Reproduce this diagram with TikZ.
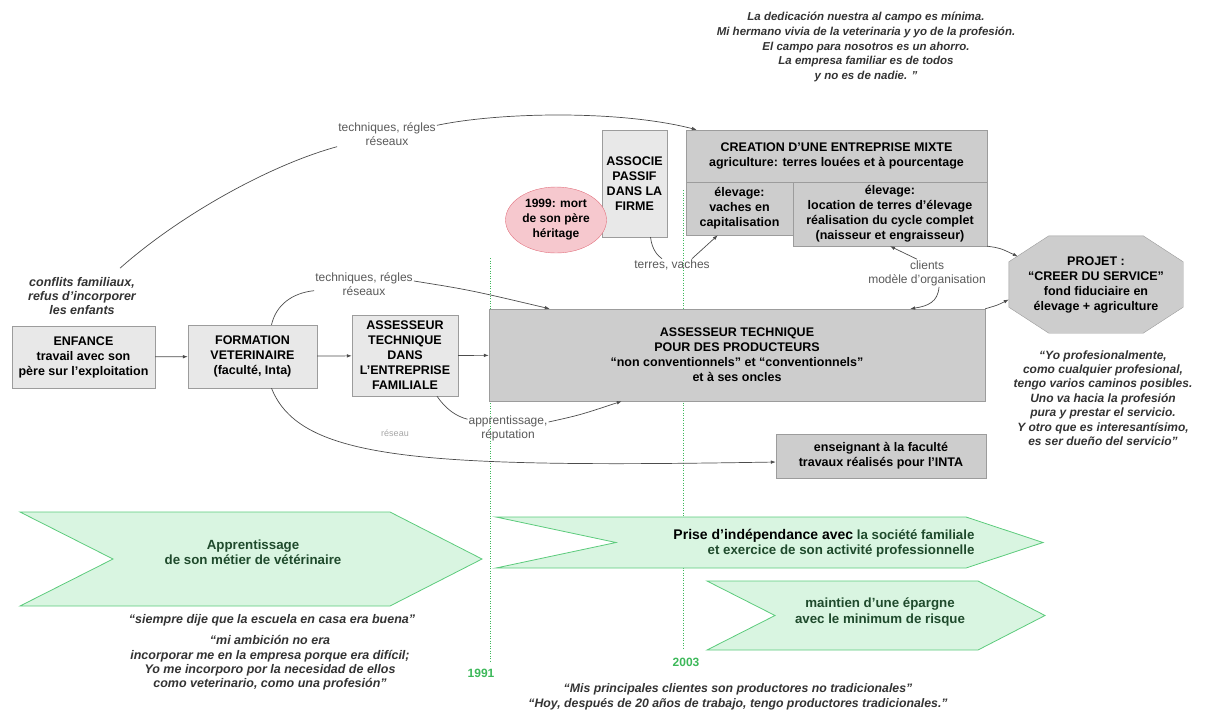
\documentclass[tikz,border=0pt]{standalone}
\usepackage{fontspec}
\setmainfont{Liberation Sans}
\usepackage{tikz}
\usetikzlibrary{arrows.meta,positioning,calc,shapes.geometric,backgrounds}
\definecolor{grisc}{HTML}{E8E8E8}
\definecolor{grisf}{HTML}{CDCDCD}
\definecolor{bord}{HTML}{9C9C9C}
\definecolor{rose}{HTML}{F6C8CE}
\definecolor{rouge}{HTML}{E2727F}
\definecolor{vertc}{HTML}{D9F5E1}
\definecolor{vertb}{HTML}{5CCB7C}
\definecolor{vertf}{HTML}{1F4A2C}
\definecolor{annee}{HTML}{3DB85A}
\tikzset{
  boite/.style={draw=bord,fill=grisc,align=center,inner sep=2pt,font=\bfseries\fontsize{12.5}{15}\selectfont},
  boitef/.style={boite,fill=grisf},
  etiq/.style={align=center,inner sep=1pt,text=black!65,font=\fontsize{12}{14}\selectfont},
  cit/.style={align=center,inner sep=1pt,text=black!80,font=\bfseries\itshape\fontsize{12}{14.4}\selectfont},
  fl/.style={draw=black!70,line width=0.7pt,-{Latex[length=5pt,width=3.6pt]}},
  trait/.style={draw=black!70,line width=0.7pt},
  chev/.style={draw=vertb,fill=vertc,line width=0.8pt},
  txtchev/.style={align=center,text=vertf,font=\bfseries\fontsize{13.3}{15.5}\selectfont},
  ligan/.style={draw=annee,line width=1pt,dash pattern=on 1pt off 1.5pt},
  an/.style={text=annee,font=\bfseries\fontsize{12}{14}\selectfont},
}

\begin{document}
\begin{tikzpicture}[x=1pt,y=-1pt]
  \useasboundingbox (0,0) rectangle (1217,720);
  \coordinate (a91h) at (490,258); \coordinate (a91b) at (490,662);
  \coordinate (a03h) at (683,190); \coordinate (a03b) at (683,650);
  \draw[ligan] (a91h) -- (a91b);
  \draw[ligan] (a03h) -- (a03b);
  \node[an] (n91) at (481,673) {1991};
  \node[an] (n03) at (686,662) {2003};
  \foreach \xa/\xn/\xd/\xp/\ya/\yb in {20/113/390/482/512/606, 496/616/966/1043/517/568, 707/775/978/1045/581/650} {
    \draw[chev] (\xa,\ya) -- (\xd,\ya) -- (\xp,{(\ya+\yb)/2}) -- (\xd,\yb) -- (\xa,\yb) -- (\xn,{(\ya+\yb)/2}) -- cycle;
  }
  \node[txtchev] (appr) at (253,552) {Apprentissage\\de son métier de vétérinaire};
  \node[txtchev,align=right,anchor=east] (indep) at (978,543) {{\color{black}\fontsize{14}{15.5}\selectfont Prise d'indépendance avec} la société familiale\\et exercice de son activité professionnelle};
  \node[txtchev] (epar) at (880,612) {maintien d'une épargne\\avec le minimum de risque};

  \node[boite,minimum width=143pt,minimum height=62pt] (enf) at (83.5,357) {ENFANCE\\travail avec son\\père sur l'exploitation};
  \node[boite,minimum width=129pt,minimum height=63pt] (form) at (252.5,356.5) {FORMATION\\VETERINAIRE\\(faculté, Inta)};
  \node[boite,minimum width=106pt,minimum height=81pt] (asfam) at (405,355.5) {ASSESSEUR\\TECHNIQUE\\DANS\\L'ENTREPRISE\\FAMILIALE};
  \node[boitef,minimum width=496pt,minimum height=92pt] (prod) at (737,355) {ASSESSEUR TECHNIQUE\\POUR DES PRODUCTEURS\\“non conventionnels” et “conventionnels”\\et à ses oncles};
  \node[boite,minimum width=65pt,minimum height=107pt] (assoc) at (634.5,183.5) {ASSOCIE\\PASSIF\\DANS LA\\FIRME};
  \node[ellipse,draw=rouge,fill=rose,minimum width=101pt,minimum height=66pt,inner sep=0pt,align=center,font=\bfseries\fontsize{12}{15}\selectfont] (deces) at (556,220) {1999: mort\\de son père\\héritage};
  \node[boitef,minimum width=301pt,minimum height=52pt] (crea) at (836.5,156) {CREATION D'UNE ENTREPRISE MIXTE\\agriculture: terres louées et à pourcentage};
  \node[boitef,minimum width=107pt,minimum height=53pt] (elev1) at (739.5,208.5) {élevage:\\vaches en\\capitalisation};
  \node[boitef,minimum width=194pt,minimum height=64pt] (elev2) at (890,214) {élevage:\\location de terres d'élevage\\réalisation du cycle complet\\(naisseur et engraisseur)};
  \node[boitef,draw=none,fill=none,minimum width=174pt,minimum height=97pt] (proj) at (1096,284.5) {PROJET :\\“CREER DU SERVICE”\\fond fiduciaire en\\élevage + agriculture};
  \begin{scope}[on background layer]
    \draw[draw=bord,fill=grisf] ($(proj.north west)+(40,0)$) -- ($(proj.north east)+(-40,0)$) -- ($(proj.north east)+(0,26)$) -- ($(proj.south east)+(0,-26)$) -- ($(proj.south east)+(-40,0)$) -- ($(proj.south west)+(40,0)$) -- ($(proj.south west)+(0,-26)$) -- ($(proj.north west)+(0,26)$) -- cycle;
  \end{scope}
  \node[boitef,minimum width=210pt,minimum height=44pt] (ens) at (881,456) {enseignant à la faculté\\travaux réalisés pour l'INTA};

  \node[cit,font=\bfseries\itshape\fontsize{11.5}{14.7}\selectfont] (citcampo) at (866,47) {La dedicación nuestra al campo es mínima.\\Mi hermano vivia de la veterinaria y yo de la profesión.\\El campo para nosotros es un ahorro.\\La empresa familiar es de todos\\y no es de nadie. ”};
  \node[cit,font=\bfseries\itshape\fontsize{12.5}{14}\selectfont] (confl) at (82,296) {conflits familiaux,\\refus d'incorporer\\les enfants};
  \node[cit] (citprof) at (1103,398) {“Yo profesionalmente,\\como cualquier profesional,\\tengo varios caminos posibles.\\Uno va hacia la profesión\\pura y prestar el servicio.\\Y otro que es interesantísimo,\\es ser dueño del servicio”};
  \node[cit,font=\bfseries\itshape\fontsize{12.5}{14.4}\selectfont] (citesc) at (272,620) {“siempre dije que la escuela en casa era buena”};
  \node[cit,font=\bfseries\itshape\fontsize{12.5}{14.4}\selectfont] (citamb) at (270,663) {“mi ambición no era\\incorporar me en la empresa porque era difícil;\\Yo me incorporo por la necesidad de ellos\\como veterinario, como una profesión”};
  \node[cit,font=\bfseries\itshape\fontsize{12.3}{14.4}\selectfont] (citcli) at (738,697) {“Mis principales clientes son productores no tradicionales”\\“Hoy, después de 20 años de trabajo, tengo productores tradicionales.”};

  \node[etiq] (tech1) at (387,134) {techniques, régles\\réseaux};
  \node[etiq] (tech2) at (364,284) {techniques, régles\\réseaux};
  \node[etiq] (tv) at (672,265) {terres, vaches};
  \node[etiq] (cli) at (927,273) {clients\\modèle d'organisation};
  \node[etiq] (appren) at (508,428) {apprentissage,\\réputation};
  \node[etiq,text=black!35,font=\fontsize{9}{10}\selectfont] (res) at (395,433) {réseau};

  \draw[fl] (enf) -- (form);
  \draw[fl] (form) -- (asfam);
  \draw[fl] (asfam) -- (prod);
  \draw[trait] ($(confl.north)+(38,-8)$) .. controls (180,215) and (270,165) .. (tech1.south west);
  \draw[fl] ($(tech1.north east)+(0,4)$) .. controls (500,112) and (620,110) .. ($(crea.north west)+(11,0)$);
  \draw[trait] ($(form.north)+(19,0)$) .. controls (276,305) and (292,293) .. ($(tech2.south west)+(0,-6)$);
  \draw[fl] ($(tech2.east)+(0,-3)$) .. controls (470,290) .. ($(prod.north west)+(61,0)$);
  \draw[fl] ($(form.south)+(19,0)$) .. controls (300,460) and (420,468) .. ($(ens.west)+(0,6)$);
  \draw[trait] ($(asfam.south)+(32,0)$) .. controls (445,408) and (455,416) .. ($(appren.north west)+(0,5)$);
  \draw[fl] ($(appren.east)+(0,-6)$) .. controls (580,415) .. ($(prod.south west)+(133,0)$);
  \draw[trait] ($(assoc.south)+(16,0)$) .. controls (652,250) and (658,256) .. ($(tv.north)+(-10,0)$);
  \draw[fl] ($(tv.north)+(20,0)$) -- ($(elev1.south west)+(32,0)$);
  \draw[fl] ($(cli.north)+(-10,0)$) -- (elev2.south);
  \draw[fl] ($(cli.south)+(12,0)$) .. controls (938,302) and (928,306) .. ($(prod.north east)+(-75,0)$);
  \draw[fl] (elev2.south east) .. controls (1000,248) .. ($(proj.west)+(9,-28)$);
  \draw[fl] (prod.north east) .. controls (998,305) .. ($(proj.west)+(0,15)$);
\end{tikzpicture}
\end{document}
